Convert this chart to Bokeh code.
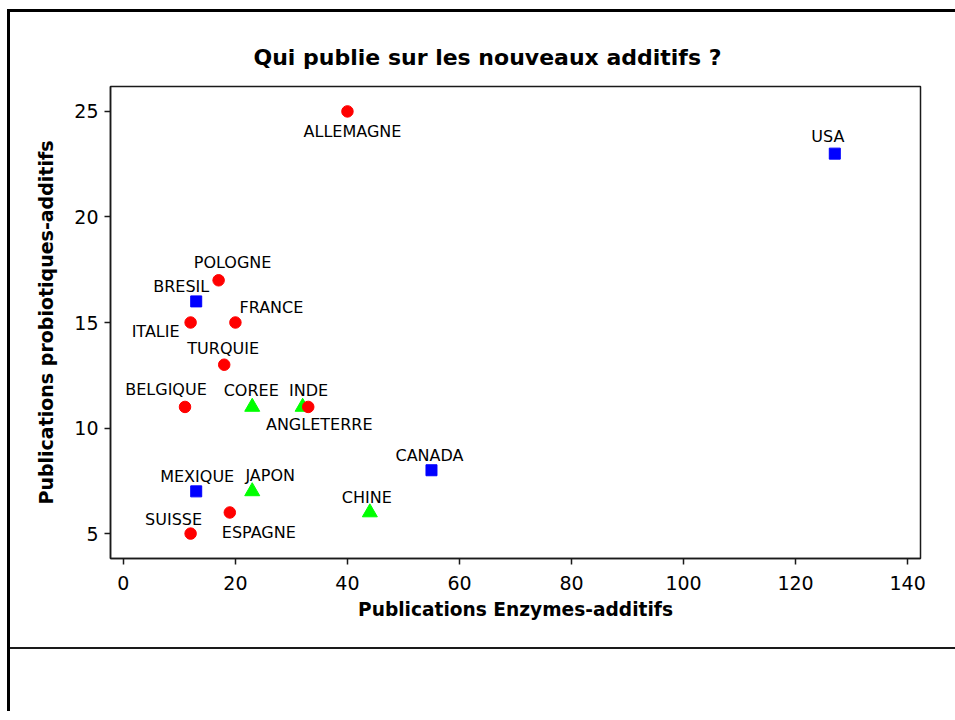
from bokeh.plotting import figure
from bokeh.models import ColumnDataSource, FixedTicker, Div
from bokeh.layouts import column
from bokeh.core.properties import value
from bokeh.embed import file_html
from bokeh.resources import INLINE

# ---- data ----
europe_names = ["ALLEMAGNE", "POLOGNE", "FRANCE", "ITALIE", "TURQUIE",
                "BELGIQUE", "ANGLETERRE", "ESPAGNE", "SUISSE"]
europe_enzymes = [40, 17, 20, 12, 18, 11, 33, 19, 12]
europe_probio = [25, 17, 15, 15, 13, 11, 11, 6, 5]

america_names = ["USA", "BRESIL", "MEXIQUE", "CANADA"]
america_enzymes = [127, 13, 13, 55]
america_probio = [23, 16, 7, 8]

asia_names = ["COREE", "INDE", "JAPON", "CHINE"]
asia_enzymes = [23, 32, 23, 44]
asia_probio = [11, 11, 7, 6]

x_ticks = [0, 20, 40, 60, 80, 100, 120, 140]
y_ticks = [5, 10, 15, 20, 25]

# label placement (screen pixel offsets, dx, dy with dy positive = down)
label_offsets = {
    "ALLEMAGNE": (5, 20), "POLOGNE": (14, -18), "FRANCE": (36, -15),
    "ITALIE": (-35, 9), "TURQUIE": (-1, -16), "BELGIQUE": (-19, -17),
    "ANGLETERRE": (11, 18), "ESPAGNE": (29, 20), "SUISSE": (-17, -14),
    "USA": (-7, -17), "BRESIL": (-15, -15), "MEXIQUE": (1, -15),
    "CANADA": (-2, -15), "COREE": (-1, -16), "INDE": (6, -16),
    "JAPON": (18, -16), "CHINE": (-3, -15),
}

FONT = "DejaVu Sans"

p = figure(frame_width=810, frame_height=472,
           min_border_left=100, min_border_right=35,
           min_border_top=74, min_border_bottom=89,
           x_range=(-2.3, 142.3), y_range=(3.82, 26.18),
           output_backend="svg", toolbar_location=None,
           title="Qui publie sur les nouveaux additifs ?")

p.background_fill_color = "white"
p.border_fill_color = "white"
p.outline_line_color = "#1a1a1a"
p.outline_line_width = 1.5
p.grid.visible = False

p.title.text_font = FONT
p.title.text_font_size = "22px"
p.title.text_font_style = "bold"
p.title.text_color = "black"
p.title.align = "left"
p.title.offset = 143
p.title.standoff = 34

for ax in (p.xaxis[0], p.yaxis[0]):
    ax.axis_line_color = "#1a1a1a"
    ax.axis_line_width = 1.5
    ax.major_tick_line_color = "#1a1a1a"
    ax.major_tick_line_width = 1.5
    ax.major_tick_out = 6
    ax.major_tick_in = 0
    ax.minor_tick_line_color = None
    ax.major_label_text_font = FONT
    ax.major_label_text_font_size = "19px"
    ax.major_label_text_color = "black"
    ax.axis_label_text_font = FONT
    ax.axis_label_text_font_style = "bold"
    ax.axis_label_text_color = "black"

p.xaxis.axis_label_text_font_size = "18.6px"
p.yaxis.axis_label_text_font_size = "19px"
p.xaxis.ticker = FixedTicker(ticks=x_ticks)
p.yaxis.ticker = FixedTicker(ticks=y_ticks)
p.xaxis.axis_label = "Publications Enzymes-additifs"
p.yaxis.axis_label = "Publications probiotiques-additifs"
p.xaxis.major_label_standoff = 11
p.yaxis.major_label_standoff = 6
p.xaxis.axis_label_standoff = 6
p.yaxis.axis_label_standoff = 14


def add_series(names, xs, ys, marker, color, size):
    src = ColumnDataSource(dict(
        x=xs, y=ys, name=names,
        dx=[label_offsets[n][0] for n in names],
        dy=[label_offsets[n][1] for n in names],
    ))
    p.scatter("x", "y", source=src, marker=marker, size=size,
              fill_color=color, line_color=color)
    p.text("x", "y", text="name", source=src, x_offset="dx", y_offset="dy",
           text_align="center", text_baseline="middle",
           text_font=value(FONT), text_font_size="16px", text_color="black")


# drawing order: triangles first so that circles sit on top where they overlap
add_series(asia_names, asia_enzymes, asia_probio, "triangle", "#00FF00", 15)
add_series(america_names, america_enzymes, america_probio, "square", "#0000FF", 11)
add_series(europe_names, europe_enzymes, europe_probio, "circle", "#FF0000", 11.5)

# lower empty panel with its separating line
lower = Div(text="", width=945, height=64, margin=0,
            styles={"border-top": "2px solid #1a1a1a", "background": "white"})

page = column(p, lower, spacing=0,
              styles={"margin-left": "7px", "margin-top": "9px",
                      "border-left": "3px solid black",
                      "border-top": "3px solid black"})

open("out.html", "w").write(file_html(page, INLINE))
